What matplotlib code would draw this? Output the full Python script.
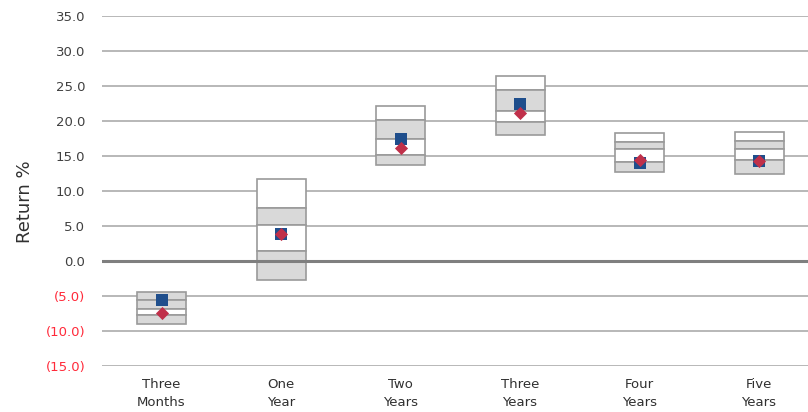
import matplotlib.pyplot as plt
import numpy as np

# ---------- DATA ----------
categories = ["Three\nMonths", "One\nYear", "Two\nYears", "Three\nYears", "Four\nYears", "Five\nYears"]

# percentile boundaries of each floating box (top to bottom)
pct_05 = [-4.4, 11.7, 22.1, 26.4, 18.3, 18.5]
pct_25 = [-5.6, 7.6, 20.1, 24.4, 17.0, 17.2]
pct_50 = [-6.9, 5.1, 17.4, 21.5, 16.0, 16.0]
pct_75 = [-7.7, 1.5, 15.1, 19.9, 14.1, 14.5]
pct_95 = [-9.0, -2.7, 13.7, 18.0, 12.7, 12.5]

portfolio = [-5.6, 3.9, 17.5, 22.5, 14.0, 14.3]   # blue squares
benchmark = [-7.4, 3.9, 16.2, 21.2, 14.5, 14.3]   # red diamonds

yticks = [-15, -10, -5, 0, 5, 10, 15, 20, 25, 30, 35]

# ---------- STYLE ----------
plt.rcParams.update({
    "font.family": ["DejaVu Sans"],
    "font.size": 9.5,
})

GRID = "#B8B8B8"
EDGE = "#9A9A9A"
GRAY = "#D9D9D9"
BLUE = "#1F4E8C"
RED = "#C0304A"
NEG = "#FF2A3A"

fig = plt.figure(figsize=(8.08, 4.12), dpi=100)
ax = fig.add_axes([102 / 808, 1 - 366 / 412, 706 / 808, 350 / 412])

x = np.arange(len(categories))
width = 0.41

# band fills, top to bottom; the negative box stacks differently (as in Excel)
band_cols = [
    ["white", GRAY, "white", GRAY] if v >= 0 else [GRAY, GRAY, "white", GRAY]
    for v in pct_05
]
edges = [pct_05, pct_25, pct_50, pct_75, pct_95]
for i in range(4):
    top = np.array(edges[i])
    bot = np.array(edges[i + 1])
    cols = [c[i] for c in band_cols]
    ax.bar(x, top - bot, bottom=bot, width=width, color=cols,
           edgecolor=EDGE, linewidth=1.2, zorder=2)

ax.axhline(0, color="#7F7F7F", linewidth=2.2, zorder=2.5)

ax.scatter(x, portfolio, marker="s", s=75, color=BLUE, zorder=4, linewidths=0)
ax.scatter(x, benchmark, marker="D", s=45, color=RED, zorder=5, linewidths=0)

# ---------- AXES ----------
ax.set_ylim(-15, 35)
ax.set_xlim(-0.498, 5.41)
ax.set_yticks(yticks)
ax.set_yticklabels([f"({abs(v):.1f})" if v < 0 else f"{v:.1f}" for v in yticks])
for lbl, v in zip(ax.get_yticklabels(), yticks):
    lbl.set_color(NEG if v < 0 else "#404040")

ax.set_xticks(x)
ax.set_xticklabels(categories, color="#303030", linespacing=1.4)
ax.tick_params(axis="y", length=0, pad=12)
ax.tick_params(axis="x", length=0, pad=9)

ax.yaxis.grid(True, color=GRID, linewidth=1.4, zorder=0)
ax.set_axisbelow(True)
for s in ax.spines.values():
    s.set_visible(False)

ax.set_ylabel("Return %", fontsize=13, color="#303030")
ax.yaxis.set_label_coords(-0.096, 0.47)

fig.savefig("out.png", dpi=100)
